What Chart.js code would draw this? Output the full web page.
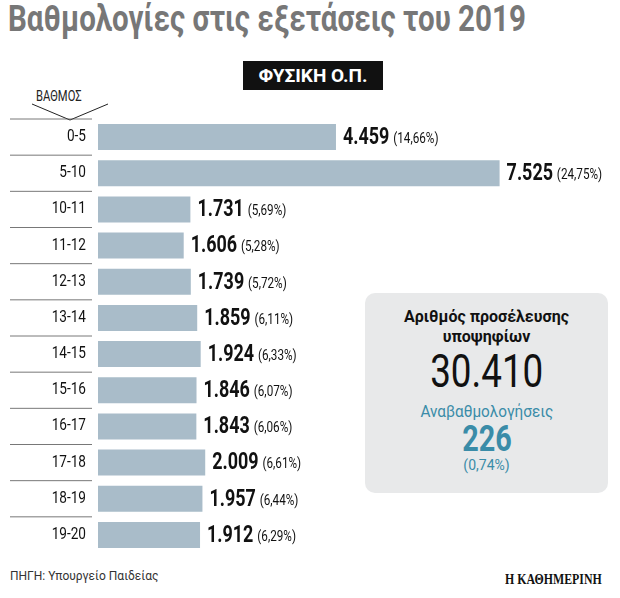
<!DOCTYPE html>
<html><head><meta charset="utf-8">
<script src="https://cdn.jsdelivr.net/npm/chart.js@4"></script>
<style>
body{margin:0;width:620px;height:598px;background:#fff;position:relative;overflow:hidden;font-family:Roboto,sans-serif}
#c{position:absolute;left:0;top:0}
.t{position:absolute;white-space:nowrap}
.n{display:inline-block;transform:scaleX(0.8)}
</style></head><body>
<div class="t" style="left:8px;top:-2px;font-size:36px;font-weight:bold;color:#777;transform:scaleX(0.82);transform-origin:0 0">Βαθμολογίες στις εξετάσεις του 2019</div>
<div class="t" style="left:243px;top:61px;width:140px;height:29px;background:#111;color:#fff;font-size:19px;font-weight:bold;text-align:center;line-height:29px">ΦΥΣΙΚΗ Ο.Π.</div>
<div class="t" style="left:36px;top:88px;font-size:14px;color:#222"><span class="n" style="transform-origin:0 0">ΒΑΘΜΟΣ</span></div>
<svg class="t" style="left:30px;top:102px" width="80" height="22"><polyline points="2,2 40,18 78,2" fill="none" stroke="#222" stroke-width="1"/></svg>
<div class="t" style="left:365px;top:293px;width:243px;height:200px;background:#e8e9ea;border-radius:10px;text-align:center">
<div style="margin-top:14px;font-size:16px;font-weight:bold;line-height:20px;color:#111">Αριθμός προσέλευσης<br>υποψηφίων</div>
<div style="font-size:46px;line-height:48px;color:#111"><span class="n">30.410</span></div>
<div style="margin-top:6px;font-size:17px;color:#3a8ca8"><span class="n" style="transform:scaleX(0.9)">Αναβαθμολογήσεις</span></div>
<div style="font-size:36px;font-weight:bold;line-height:36px;color:#3a8ca8"><span class="n">226</span></div>
<div style="font-size:14px;color:#3a8ca8">(0,74%)</div>
</div>
<div class="t" style="left:10px;top:569px;font-size:12px;color:#333">ΠΗΓΗ: Υπουργείο Παιδείας</div>
<div class="t" style="left:505px;top:572px;font-size:14px;font-weight:bold;color:#111;font-family:'Liberation Serif',serif;transform:scaleX(0.85);transform-origin:0 0">Η ΚΑΘΗΜΕΡΙΝΗ</div>
<canvas id="c" width="620" height="598"></canvas>
<script>
const categories=["0-5","5-10","10-11","11-12","12-13","13-14","14-15","15-16","16-17","17-18","18-19","19-20"];
const values=[4459,7525,1731,1606,1739,1859,1924,1846,1843,2009,1957,1912];
const valueLabels=["4.459","7.525","1.731","1.606","1.739","1.859","1.924","1.846","1.843","2.009","1.957","1.912"];
const percentLabels=["(14,66%)","(24,75%)","(5,69%)","(5,28%)","(5,72%)","(6,11%)","(6,33%)","(6,07%)","(6,06%)","(6,61%)","(6,44%)","(6,29%)"];
const S=0.78;
const labelPlugin={id:'lbl',afterDatasetsDraw(ch){
 const ctx=ch.ctx,meta=ch.getDatasetMeta(0),ys=ch.scales.y;
 ctx.save();
 meta.data.forEach((b,i)=>{
  ctx.save();ctx.textBaseline='middle';ctx.fillStyle='#111';
  const x=b.x+7;
  ctx.translate(x,0);ctx.scale(S,1);
  ctx.font='bold 23px Roboto';ctx.textAlign='left';ctx.fillText(valueLabels[i],0,b.y+1);
  const w=ctx.measureText(valueLabels[i]).width;
  ctx.font='15px Roboto';ctx.fillText(percentLabels[i],w+5,b.y+2);
  ctx.restore();
  ctx.save();ctx.translate(86,0);ctx.scale(0.85,1);
  ctx.font='16px Roboto';ctx.fillStyle='#111';ctx.textAlign='right';ctx.textBaseline='middle';ctx.fillText(categories[i],0,b.y);
  ctx.restore();
  const h=ys.getPixelForValue(i)+(ys.getPixelForValue(1)-ys.getPixelForValue(0))/2;
  if(i<categories.length-1){ctx.strokeStyle='#555';ctx.lineWidth=0.8;ctx.beginPath();ctx.moveTo(10,h);ctx.lineTo(92,h);ctx.stroke();}
 });
 const top=ys.getPixelForValue(0)-(ys.getPixelForValue(1)-ys.getPixelForValue(0))/2;
 ctx.strokeStyle='#555';ctx.beginPath();ctx.moveTo(10,top);ctx.lineTo(92,top);ctx.stroke();
 ctx.restore();}};
new Chart(document.getElementById('c'),{type:'bar',
 data:{labels:categories,datasets:[{data:values,backgroundColor:'#a9bcc9',barPercentage:0.72,categoryPercentage:1}]},
 options:{indexAxis:'y',responsive:false,animation:false,
  layout:{padding:{left:98,top:119,bottom:45,right:15}},
  plugins:{legend:{display:false},tooltip:{enabled:false}},
  scales:{x:{display:false,min:0,max:9500},y:{display:false}}},
 plugins:[labelPlugin]});
</script></body></html>
